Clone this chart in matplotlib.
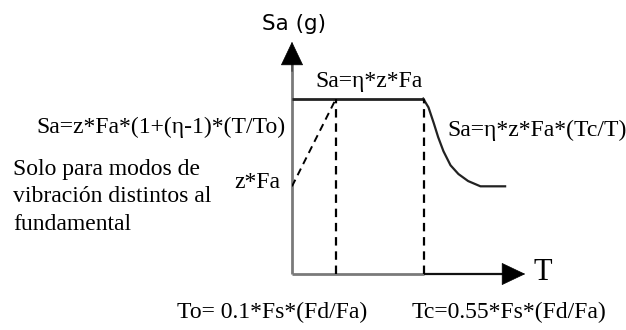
import matplotlib
matplotlib.use("Agg")
import matplotlib.pyplot as plt

# Schematic design spectrum (arbitrary units)
z_fa = 0.5            # z*Fa, spectral ordinate at T = 0
eta = 2.0             # amplification factor
plateau = eta * z_fa  # eta*z*Fa
T_o = 0.5
T_c = 1.5
T_max = 2.68
Sa_max = 1.34

# Descending branch beyond Tc (sketched)
T_desc = [1.49, 1.55, 1.61, 1.66, 1.72, 1.80, 1.89, 2.00, 2.14, 2.25, 2.42]
Sa_desc = [1.00, 0.95, 0.86, 0.78, 0.70, 0.62, 0.57, 0.53, 0.50, 0.50, 0.50]

W, H = 626, 330
fig = plt.figure(figsize=(W / 100, H / 100), dpi=100)
fig.patch.set_facecolor("white")

x0, x1 = 292, 528
y0, y1 = 274, 39
ax = fig.add_axes([x0 / W, (H - y0) / H, (x1 - x0) / W, (y0 - y1) / H])
ax.set_xlim(0, T_max)
ax.set_ylim(0, Sa_max)
ax.axis("off")

gray = "#7a7a7a"
# axes with arrowheads
ax.plot([0, 0], [0, Sa_max * 0.92], color=gray, lw=2.0, clip_on=False, solid_capstyle="butt")
ax.plot([0, T_c], [0, 0], color=gray, lw=2.0, clip_on=False, solid_capstyle="butt")
ax.plot([T_c, T_max * 0.95], [0, 0], color="#111111", lw=1.6, clip_on=False, solid_capstyle="butt")
ax.annotate("", xy=(0, Sa_max), xytext=(0, Sa_max * 0.85),
            arrowprops=dict(arrowstyle="-|>,head_length=0.8,head_width=0.38",
                            mutation_scale=20, color="black", lw=0.5),
            annotation_clip=False)
ax.annotate("", xy=(T_max, 0), xytext=(T_max * 0.9, 0),
            arrowprops=dict(arrowstyle="-|>,head_length=0.8,head_width=0.38",
                            mutation_scale=20, color="black", lw=0.5),
            annotation_clip=False)

# plateau and descending branch
ax.plot([0, T_c], [plateau, plateau], color="#222222", lw=2.0, solid_capstyle="butt")
ax.plot(T_desc, Sa_desc, color="#222222", lw=1.6)

# rising branch for higher modes and corner periods
dash = (0, (3.8, 2.6))
ax.plot([0, T_o], [z_fa, plateau], color="black", lw=1.4, linestyle=dash)
ax.plot([T_o, T_o], [0, plateau], color="black", lw=1.6, linestyle=dash)
ax.plot([T_c, T_c], [0, plateau], color="black", lw=1.6, linestyle=dash)

serif = "Liberation Serif"
fs = 17


def label(x, y, s, ha="left", size=fs, family=serif, va="center"):
    fig.text(x / W, 1 - y / H, s, ha=ha, va=va, fontsize=size,
             family=family, color="black")


label(262, 24, "Sa (g)", family="DejaVu Sans", size=15.5)
label(533, 273, "T", size=22)
label(315, 81, "Sa=η*z*Fa")
label(447, 130, "Sa=η*z*Fa*(Tc/T)")
label(285, 127, "Sa=z*Fa*(1+(η-1)*(T/To)", ha="right")
label(280, 182, "z*Fa", ha="right")
label(13, 170, "Solo para modos de")
label(13, 197, "vibración distintos al")
label(13, 224, "fundamental")
label(177, 312, "To= 0.1*Fs*(Fd/Fa)")
label(412, 312, "Tc=0.55*Fs*(Fd/Fa)")

fig.savefig("out.png", dpi=100, facecolor="white")
